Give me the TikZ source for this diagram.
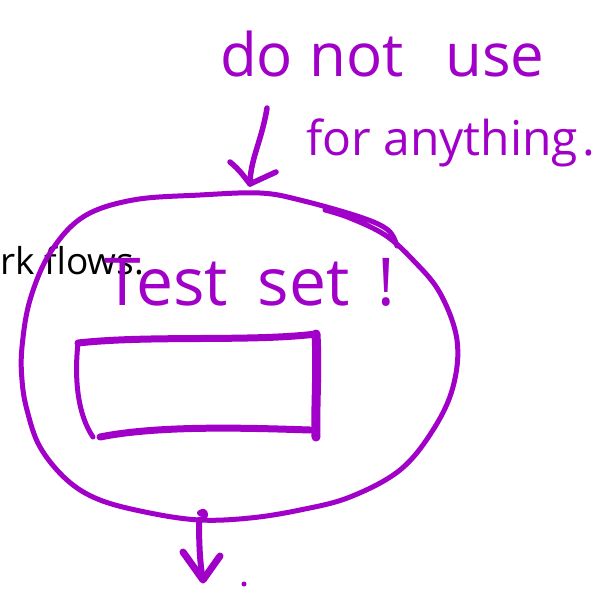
\documentclass[tikz,border=0pt]{standalone}
\usepackage{fontspec}
\setmainfont{Open Sans}
\definecolor{ink}{RGB}{160,0,200}
\begin{document}
\begin{tikzpicture}[x=1pt,y=-1pt,
  pen/.style={draw=ink,line width=5pt,line cap=round,line join=round},
  thickpen/.style={draw=ink,line width=7pt,line cap=round,line join=round},
  hand/.style={text=ink,inner sep=0pt,anchor=base west},
  plain/.style={text=black,inner sep=0pt,anchor=base west}]
\useasboundingbox[fill=white] (0,0) rectangle (605,590);
% background text
\node[plain,font=\fontsize{37}{37}\selectfont] (bgtext) at (0,274) {rk flows.};
% handwritten notes
\node[hand,font=\fontsize{60}{60}\selectfont] (note1) at (220,76) {do\hspace{16pt}not\hspace{42pt}use};
\node[hand,font=\fontsize{48}{48}\selectfont] (note2) at (306,155) {for anything\hspace{4pt}.};
\node[hand,font=\fontsize{66}{66}\selectfont] (title) at (104,305) {Test\hspace{30pt}set\hspace{28pt}!};
% big loop
\draw[pen] plot[smooth,tension=0.6] coordinates {
 (397,246) (388,230) (360,217) (300,200) (260,193) (200,195) (133,200)
 (83,217) (50,253) (30,300) (22,347) (22,380) (27,410) (40,447) (67,480)
 (100,500) (150,513) (200,520) (250,518) (300,510) (350,497) (400,470)
 (433,430) (453,387) (457,340) (440,293) (413,260) (385,235) (350,218) (325,210)};
% inner box
\coordinate (tl) at (78,343);
\coordinate (tr) at (316,334);
\coordinate (br) at (316,437);
\coordinate (bl) at (100,437);
\draw[pen] (tl) .. controls (74,380) and (78,415) .. (93,437);
\draw[thickpen] (tl) .. controls (150,335) and (250,342) .. (tr);
\draw[line width=9pt,draw=ink,line cap=round] (tr) .. controls (318,370) and (315,410) .. (br);
\draw[thickpen] (bl) .. controls (160,425) and (250,428) .. (310,430);
% top arrow
\coordinate (a1) at (267,108);
\coordinate (a1tip) at (250,184);
\draw[pen,line width=5.5pt] (a1) .. controls (262,140) and (250,160) .. (a1tip);
\draw[pen,line width=5.5pt] (230,162) .. controls (240,170) and (245,178) .. (a1tip) -- (276,172);
% bottom arrow
\coordinate (a2) at (200,513);
\coordinate (a2tip) at (203,580);
\draw[pen,line width=6pt] (a2) .. controls (208,508) and (206,520) .. (199,520) .. controls (199,545) and (200,565) .. (a2tip);
\draw[pen,line width=7pt] (183,552) -- (a2tip) -- (220,556);
\fill[ink] (244,584) circle (2.5);
\end{tikzpicture}
\end{document}
